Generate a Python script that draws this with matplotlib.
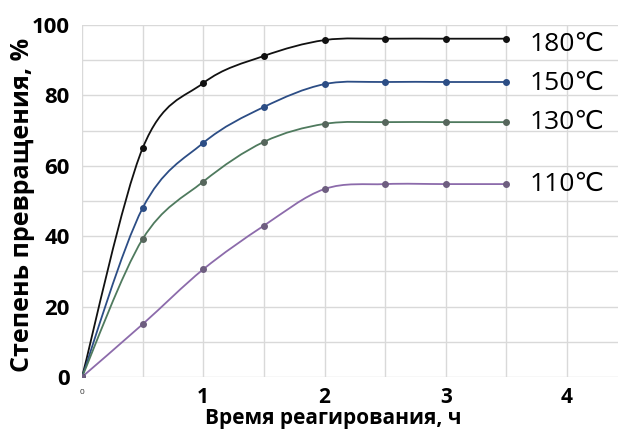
import matplotlib

matplotlib.use("Agg")
import matplotlib.pyplot as plt  # noqa: E402
from matplotlib.path import Path  # noqa: E402
from matplotlib.patches import PathPatch  # noqa: E402
from matplotlib.ticker import MultipleLocator  # noqa: E402

plt.rcParams["font.family"] = ["Open Sans", "DejaVu Sans"]

# reaction time, h
hours = [0, 0.5, 1, 1.5, 2, 2.5, 3, 3.5]

# conversion degree, %
conv_180 = [0, 65.0, 83.5, 91.2, 95.7, 96.1, 96.1, 96.1]
conv_150 = [0, 48.0, 66.5, 76.7, 83.2, 83.8, 83.8, 83.8]
conv_130 = [0, 39.2, 55.5, 66.8, 71.9, 72.4, 72.4, 72.4]
conv_110 = [0, 15.0, 30.6, 43.0, 53.4, 54.8, 54.8, 54.8]

series = [
    ("180\u2103", conv_180, "#111111", "#111111", 94.5),
    ("150\u2103", conv_150, "#2c4d85", "#2c4d85", 83.5),
    ("130\u2103", conv_130, "#4f7a5e", "#56665c", 72.3),
    ("110\u2103", conv_110, "#8c6bab", "#6e5e80", 54.8),
]


def smooth_path(xs, ys):
    """Excel-style smoothed line: Catmull-Rom segments as cubic Beziers."""
    pts = list(zip(xs, ys))
    verts = [pts[0]]
    codes = [Path.MOVETO]
    n = len(pts)
    for i in range(n - 1):
        p0 = pts[i - 1] if i > 0 else pts[i]
        p1 = pts[i]
        p2 = pts[i + 1]
        p3 = pts[i + 2] if i + 2 < n else pts[i + 1]
        c1 = (p1[0] + (p2[0] - p0[0]) / 6, p1[1] + (p2[1] - p0[1]) / 6)
        c2 = (p2[0] - (p3[0] - p1[0]) / 6, p2[1] - (p3[1] - p1[1]) / 6)
        verts += [c1, c2, p2]
        codes += [Path.CURVE4] * 3
    return Path(verts, codes)


fig = plt.figure(figsize=(6.18, 4.32), dpi=100)
ax = fig.add_axes([0.1327, 0.1273, 0.8673, 0.8149])

for label, vals, lc, mc, ylab in series:
    ax.add_patch(PathPatch(smooth_path(hours, vals), fill=False,
                           edgecolor=lc, linewidth=1.3, zorder=3))
    ax.plot(hours, vals, linestyle="none", marker="o", markersize=4,
            color=mc, zorder=4)
    ax.text(3.69, ylab, label, fontsize=19, va="center", ha="left",
            color="black", zorder=5)

ax.set_xlim(0, 4.42)
ax.set_ylim(0, 100)
ax.xaxis.set_major_locator(MultipleLocator(1))
ax.xaxis.set_minor_locator(MultipleLocator(0.5))
ax.yaxis.set_major_locator(MultipleLocator(20))
ax.yaxis.set_minor_locator(MultipleLocator(10))
ax.set_xticks([1, 2, 3, 4])
ax.set_xticklabels(["1", "2", "3", "4"])
ax.grid(True, which="both", color="#d9d9d9", linewidth=1.0, zorder=0)
ax.set_axisbelow(True)
for s in ax.spines.values():
    s.set_visible(False)
ax.tick_params(which="both", length=0)
ax.tick_params(axis="x", labelsize=15, pad=7)
ax.tick_params(axis="y", labelsize=16, pad=9)
for t in ax.get_xticklabels() + ax.get_yticklabels():
    t.set_fontweight("bold")

# tiny zero under the origin
ax.text(0, -3.5, "0", fontsize=6, ha="center", va="top", color="#333333",
        clip_on=False)

ax.set_xlabel("Время реагирования, ч", fontsize=15, fontweight="bold")
ax.xaxis.set_label_coords(0.468, -0.088)
ax.set_ylabel("Степень превращения, %", fontsize=18, fontweight="bold")
ax.yaxis.set_label_coords(-0.088, 0.49)

fig.savefig("out.png", dpi=100)
